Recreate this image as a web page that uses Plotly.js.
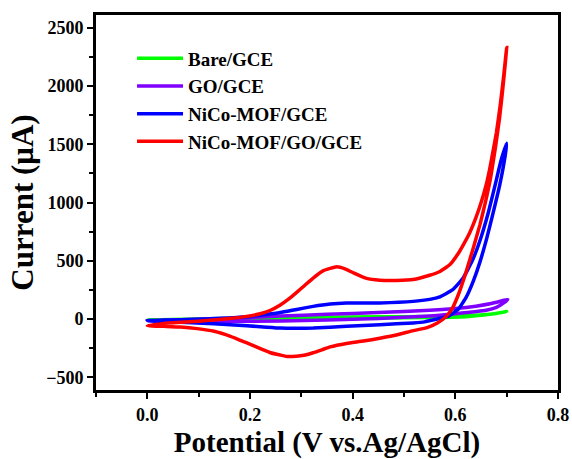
<!DOCTYPE html>
<html>
<head>
<meta charset="utf-8">
<script src="https://cdn.plot.ly/plotly-3.0.1.min.js"></script>
<style>html,body{margin:0;padding:0;background:#fff;}#chart{width:572px;height:459px;}</style>
</head>
<body>
<div id="chart"></div>
<script>
// Series names
const seriesNames = ["Bare/GCE", "GO/GCE", "NiCo-MOF/GCE", "NiCo-MOF/GO/GCE"];

// Bare/GCE (forward then reverse scan)
const bareV = [0, 0.1, 0.2, 0.3, 0.4, 0.5, 0.6, 0.65, 0.68, 0.7,
               0.69, 0.66, 0.62, 0.55, 0.45, 0.35, 0.25, 0.15, 0.05, 0];
const bareI = [-8, 0, 8, 14, 17, 20, 25, 35, 47, 65,
               55, 35, 20, 12, 8, 3, -2, -6, -8, -8];

// GO/GCE
const goV = [0, 0.1, 0.2, 0.26, 0.35, 0.45, 0.55, 0.6, 0.64, 0.67, 0.69, 0.702,
             0.695, 0.68, 0.66, 0.6, 0.55, 0.45, 0.35, 0.26, 0.15, 0.05, 0];
const goI = [-15, -2, 12, 25, 40, 55, 75, 90, 110, 133, 155, 168,
             140, 100, 75, 45, 25, 5, -8, -18, -22, -20, -15];

// NiCo-MOF/GCE
const mofV = [0, 0.032, 0.065, 0.097, 0.13, 0.162, 0.194, 0.226, 0.259, 0.291, 0.323, 0.356, 0.388, 0.453, 0.518, 0.55, 0.57, 0.595, 0.615, 0.634, 0.65, 0.664, 0.677, 0.689, 0.7,
              0.697, 0.686, 0.673, 0.661, 0.648, 0.635, 0.621, 0.606, 0.586, 0.565, 0.54, 0.518, 0.453, 0.388, 0.323, 0.291, 0.259, 0.226, 0.162, 0.097, 0.032, 0];
const mofI = [-15, -10, -6, -2, 3, 8, 18, 35, 55, 82, 108, 128, 137, 138, 151, 168, 190, 251, 350, 510, 700, 910, 1140, 1360, 1509,
              1400, 1140, 900, 690, 490, 325, 185, 85, 22, 0, -25, -34, -49, -63, -77, -80, -78, -68, -49, -34, -24, -15];

// NiCo-MOF/GO/GCE
const compV = [0, 0.03, 0.065, 0.1, 0.13, 0.16, 0.19, 0.22, 0.24, 0.259, 0.275, 0.291, 0.307, 0.323, 0.343, 0.369, 0.385, 0.401, 0.427, 0.453, 0.485, 0.518, 0.55, 0.57, 0.589, 0.605, 0.615, 0.628, 0.641, 0.651, 0.66, 0.667, 0.673, 0.68, 0.687, 0.694, 0.7,
               0.697, 0.692, 0.686, 0.678, 0.669, 0.659, 0.648, 0.635, 0.62, 0.606, 0.594, 0.582, 0.565, 0.545, 0.518, 0.485, 0.453, 0.421, 0.388, 0.356, 0.34, 0.323, 0.305, 0.29, 0.272, 0.259, 0.24, 0.226, 0.21, 0.194, 0.162, 0.13, 0.097, 0.065, 0.032, 0];
const compI = [-57, -40, -29, -19, -9, 3, 20, 45, 75, 120, 170, 228, 290, 351, 415, 448, 430, 397, 348, 333, 331, 338, 375, 408, 465, 558, 632, 740, 880, 1010, 1150, 1290, 1430, 1600, 1820, 2080, 2330,
               2180, 1960, 1720, 1470, 1220, 1010, 810, 610, 390, 210, 90, 20, -35, -75, -100, -138, -165, -190, -210, -240, -265, -290, -312, -320, -322, -310, -290, -265, -235, -206, -149, -106, -83, -69, -63, -57];

// Axis ticks
const xTicks = [0.0, 0.2, 0.4, 0.6, 0.8];
const yTicks = [-500, 0, 500, 1000, 1500, 2000, 2500];

const colors = ["#00FF00", "#7F00FF", "#0000FF", "#FF0000"];
const xs = [bareV, goV, mofV, compV];
const ys = [bareI, goI, mofI, compI];

const FONT = "Liberation Serif, Times New Roman, serif";

const traces = seriesNames.map((name, i) => ({
  x: xs[i], y: ys[i], name: name, type: "scatter", mode: "lines",
  line: {color: colors[i], width: 3.5, shape: "spline", smoothing: 0.4}
}));

const axisCommon = {
  showline: true, linewidth: 3, linecolor: "#000", mirror: true,
  ticks: "outside", ticklen: 6, tickwidth: 2, tickcolor: "#000",
  showgrid: false, zeroline: false,
  tickfont: {family: FONT, size: 18, color: "#000", weight: "bold"}
};

const layout = {
  width: 572, height: 459,
  margin: {l: 96, r: 14, t: 15, b: 69},
  paper_bgcolor: "#fff", plot_bgcolor: "#fff",
  showlegend: true,
  legend: {
    x: 0.078, y: 0.935, xanchor: "left", yanchor: "top",
    bgcolor: "rgba(0,0,0,0)", borderwidth: 0,
    font: {family: FONT, size: 19, color: "#000", weight: "bold"},
    itemwidth: 46, tracegroupgap: 0
  },
  xaxis: Object.assign({}, axisCommon, {
    range: [-0.1, 0.8], tickvals: xTicks, tickformat: ".1f",
    minor: {dtick: 0.1, tick0: 0, ticks: "outside", ticklen: 4, tickwidth: 2, tickcolor: "#000"},
    title: {text: "Potential (V vs.Ag/AgCl)", font: {family: FONT, size: 29, color: "#000", weight: "bold"}, standoff: 10}
  }),
  yaxis: Object.assign({}, axisCommon, {
    range: [-610, 2610], tickvals: yTicks,
    minor: {dtick: 250, tick0: 0, ticks: "outside", ticklen: 4, tickwidth: 2, tickcolor: "#000"},
    title: {text: "Current (μA)", font: {family: FONT, size: 31, color: "#000", weight: "bold"}, standoff: 4}
  })
};

Plotly.newPlot("chart", traces, layout, {displayModeBar: false, staticPlot: true});
</script>
</body>
</html>
